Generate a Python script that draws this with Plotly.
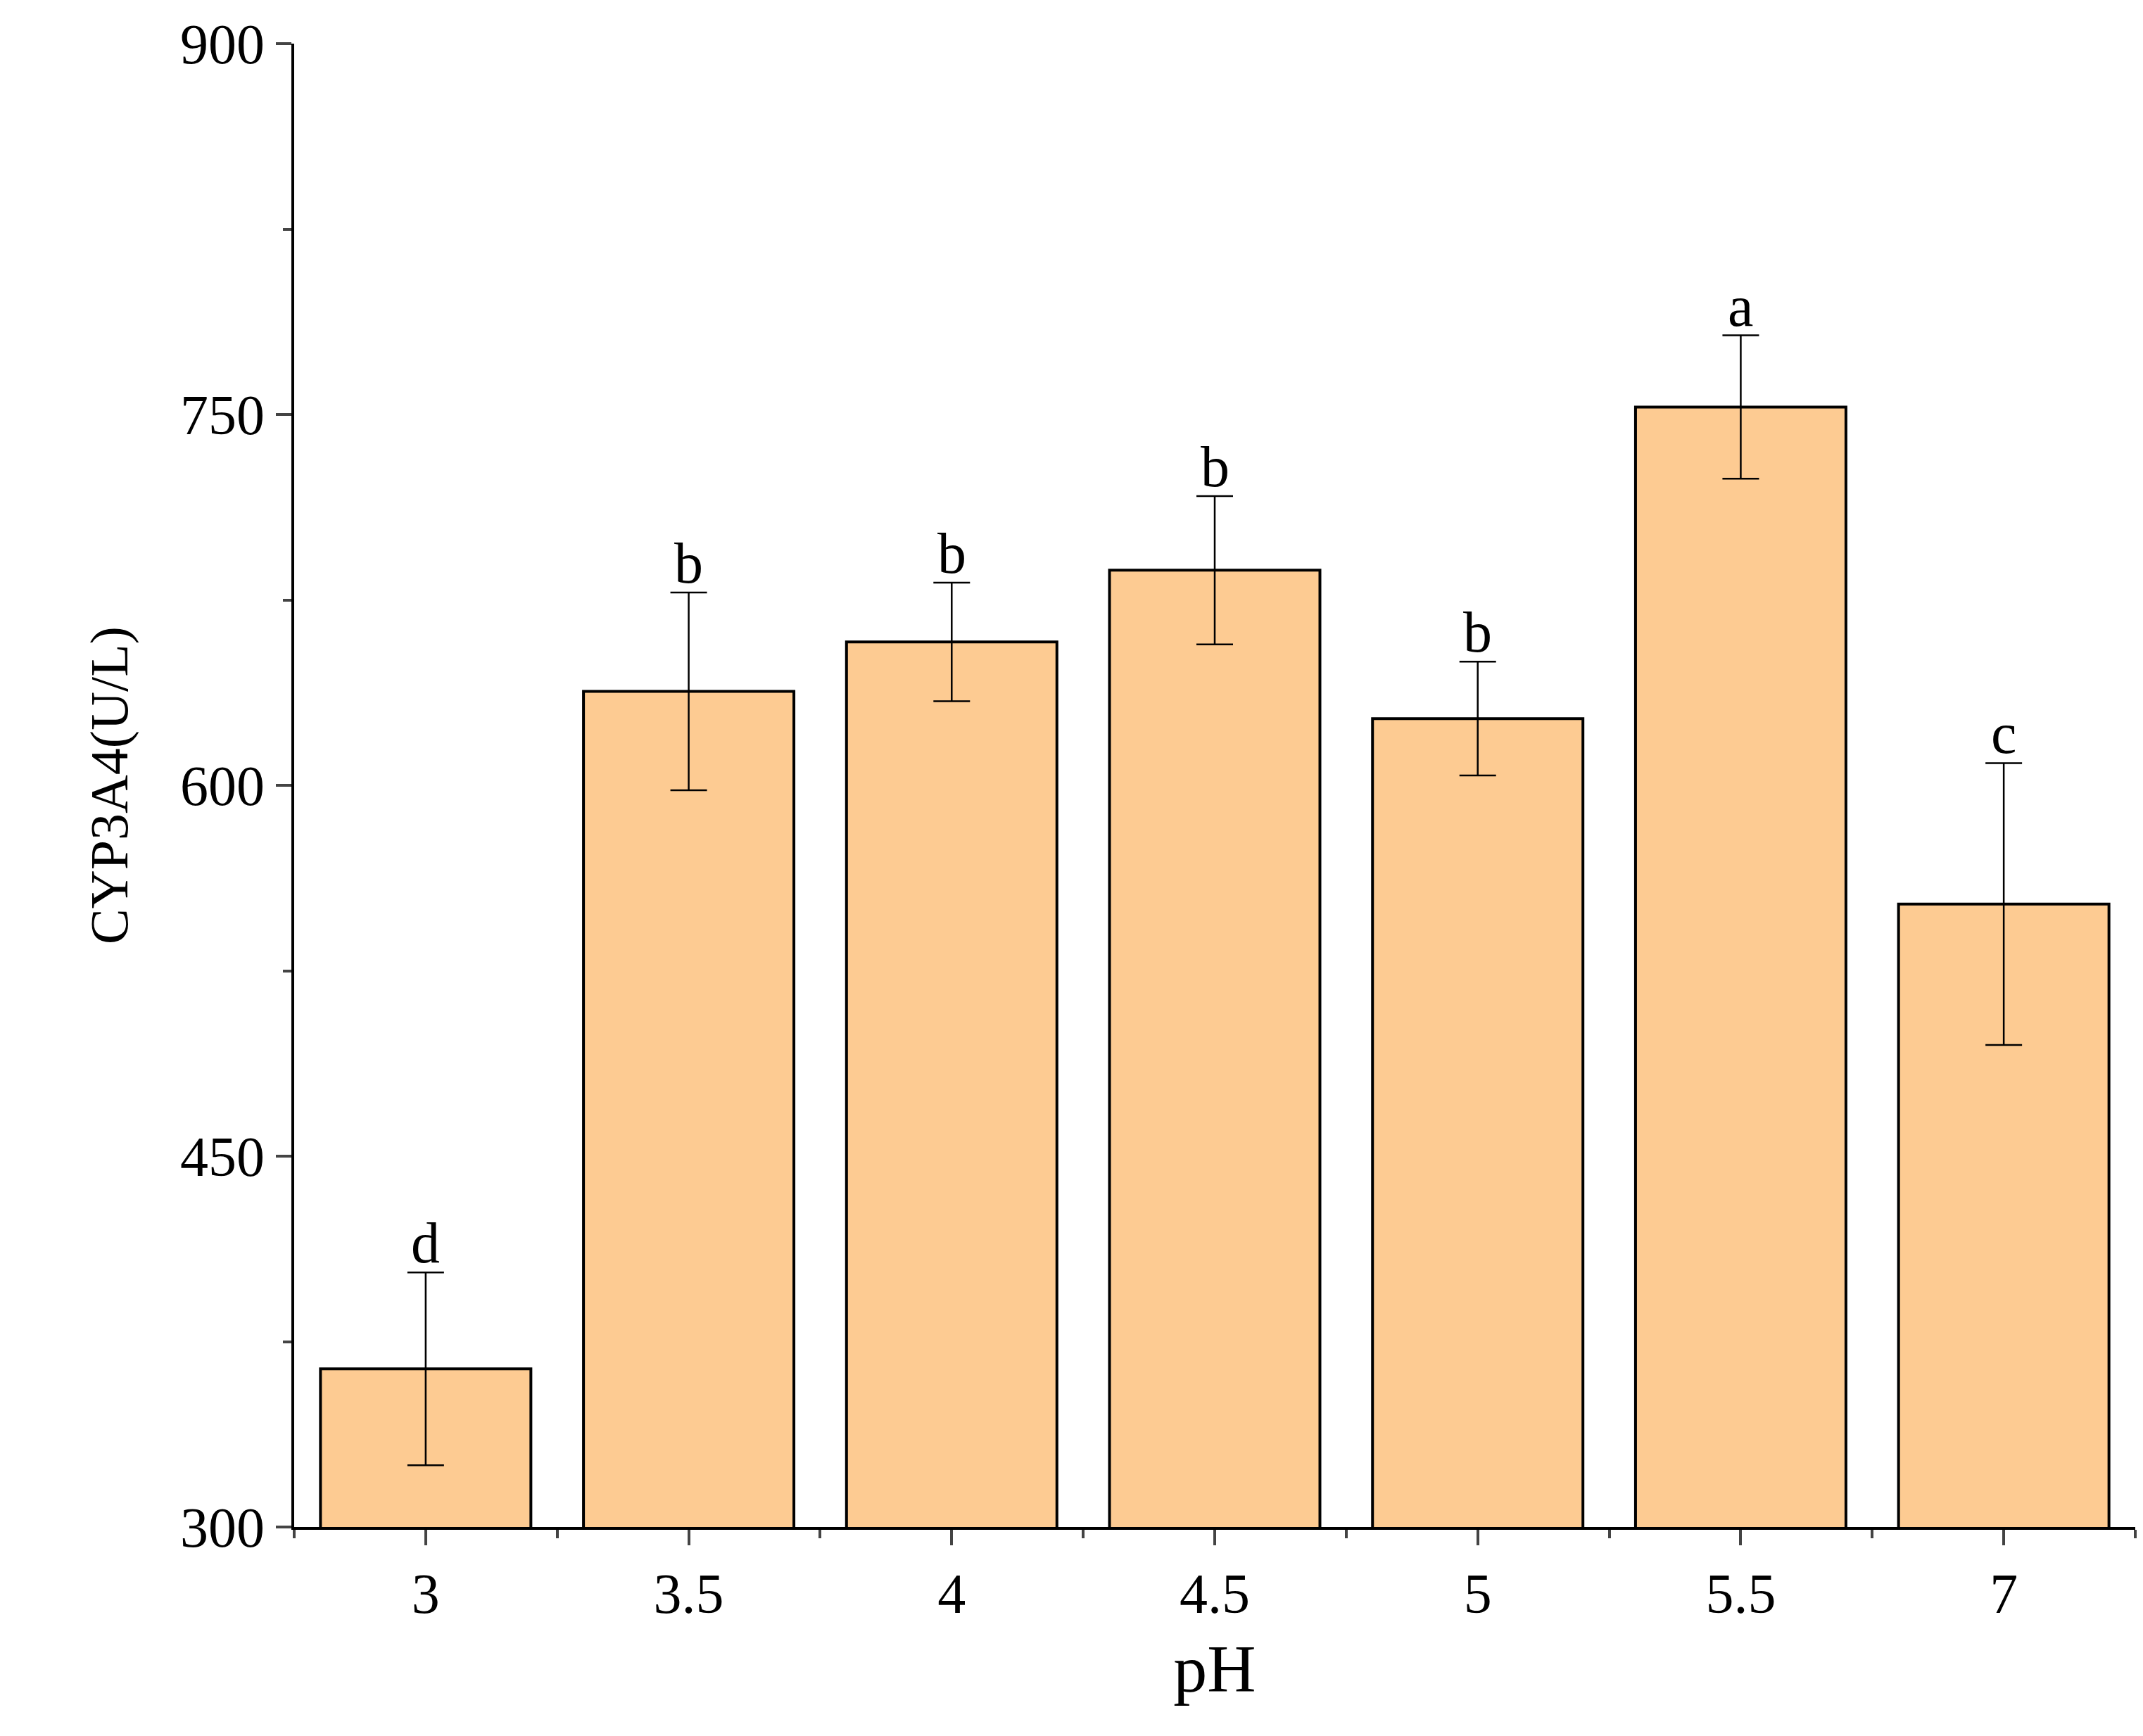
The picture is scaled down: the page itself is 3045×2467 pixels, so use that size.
import plotly.graph_objects as go

ph_labels = ["3", "3.5", "4", "4.5", "5", "5.5", "7"]
cyp3a4 = [364, 638, 658, 687, 627, 753, 552]
err = [39, 40, 24, 30, 23, 29, 57]
letters = ["d", "b", "b", "b", "b", "a", "c"]

xpos = list(range(len(ph_labels)))
serif = "Liberation Serif, Times New Roman, serif"

fig = go.Figure()
fig.add_trace(go.Bar(
    x=xpos, y=cyp3a4, width=0.8,
    marker=dict(color="#FDCB92", line=dict(color="black", width=4)),
    error_y=dict(type="data", array=err, color="black", thickness=2.5, width=26),
))
for x, v, e, t in zip(xpos, cyp3a4, err, letters):
    fig.add_annotation(x=x, y=v + e, text=t, showarrow=False, yanchor="bottom",
                       yshift=-6, font=dict(family=serif, size=82, color="black"))

fig.update_layout(
    width=3045, height=2467, plot_bgcolor="white", paper_bgcolor="white",
    margin=dict(l=410, r=19, t=54, b=305), showlegend=False,
    font=dict(family=serif, color="black"),
)
fig.update_xaxes(
    range=[-0.5, 6.5], tickvals=xpos, ticktext=ph_labels, showgrid=False,
    showline=True, linecolor="black", linewidth=4, ticks="outside", ticklen=22,
    tickwidth=4, tickfont=dict(size=80),
    minor=dict(tickvals=[i + 0.5 for i in range(-1, 7)], ticks="outside", ticklen=12, tickwidth=4),
    title=dict(text="pH", font=dict(size=96), standoff=30),
)
fig.update_yaxes(
    range=[300, 900], tickvals=[300, 450, 600, 750, 900], showgrid=False, zeroline=False,
    showline=True, linecolor="black", linewidth=4, ticks="outside", ticklen=22,
    tickwidth=4, tickfont=dict(size=80),
    minor=dict(dtick=75, ticks="outside", ticklen=12, tickwidth=4),
    title=dict(text="CYP3A4(U/L)", font=dict(size=76), standoff=50),
)
fig.write_html("out.html")
